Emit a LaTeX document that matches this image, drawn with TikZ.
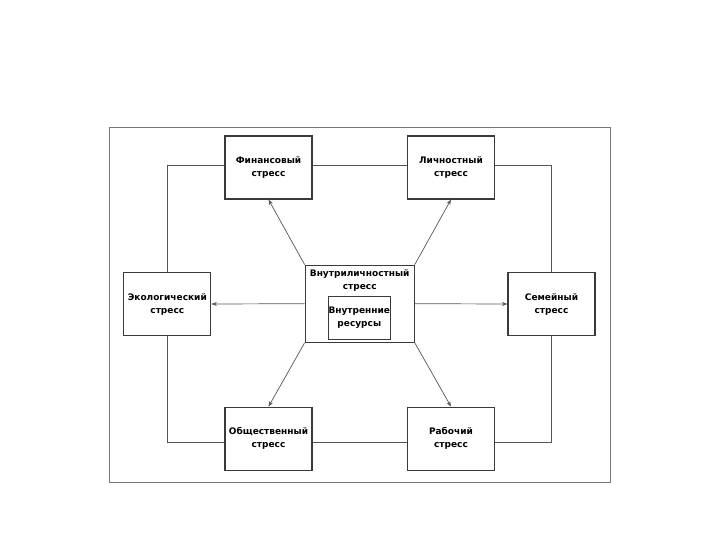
\documentclass[tikz,border=0pt]{standalone}
\usepackage{fontspec}
\setmainfont{DejaVu Sans}
\usepackage{tikz}
\usetikzlibrary{arrows.meta,positioning}
\definecolor{edge}{HTML}{3A3A3A}
\definecolor{wire}{HTML}{555555}

\begin{document}
\begin{tikzpicture}[x=1pt,y=-1pt,
  box/.style={draw=edge,line width=1.1pt,fill=white,minimum width=87pt,minimum height=63pt,align=center,font=\bfseries\fontsize{9}{13}\selectfont,inner sep=1pt},
  wirepath/.style={wire,line width=.7pt},
  arr/.style={wirepath,-{Stealth[length=5.5pt,width=4pt]}}]
\useasboundingbox (0,0) rectangle (720,540);
\draw[wire!80,line width=.7pt] (109,127) rectangle (610,482);
% stress boxes
\node[box] (fin) at (268.5,167.5) {Финансовый\\стресс};
\node[box] (lic) at (451,167.5) {Личностный\\стресс};
\node[box] (eco) at (167.3,304) {Экологический\\стресс};
\node[box] (sem) at (551.5,304) {Семейный\\стресс};
\node[box] (obs) at (268.5,438.7) {Общественный\\стресс};
\node[box] (rab) at (451,438.7) {Рабочий\\стресс};
% centre
\node[box,minimum width=109pt,minimum height=77pt] (cen) at (359.7,303.7) {};
\node[font=\bfseries\fontsize{9}{13}\selectfont,align=center,inner sep=0pt] (cent) at (359.7,280) {Внутриличностный\\стресс};
\node[box,minimum width=61pt,minimum height=43pt,inner sep=0pt] (res) at (359.3,317.7) {Внутренние\\ресурсы};
% ring
\draw[wirepath] ([yshift=1.8pt]fin.east)--([yshift=1.8pt]lic.west);
\draw[wirepath] ([yshift=-4pt]obs.east)--([yshift=-4pt]rab.west);
\draw[wirepath] ([yshift=1.8pt]fin.west)-|(eco.north);
\draw[wirepath] (eco.south)|-([yshift=-4pt]obs.west);
\draw[wirepath] ([yshift=1.8pt]lic.east)-|(sem.north);
\draw[wirepath] (sem.south)|-([yshift=-4pt]rab.east);
% arrows
\draw[arr] (cen.north west)--(fin.south);
\draw[arr] (cen.north east)--(lic.south);
\draw[arr] (cen.south west)--(obs.north);
\draw[arr] (cen.south east)--(rab.north);
\draw[arr] (cen.west)--(eco.east);
\draw[arr] (cen.east)--(sem.west);
\end{tikzpicture}
\end{document}
